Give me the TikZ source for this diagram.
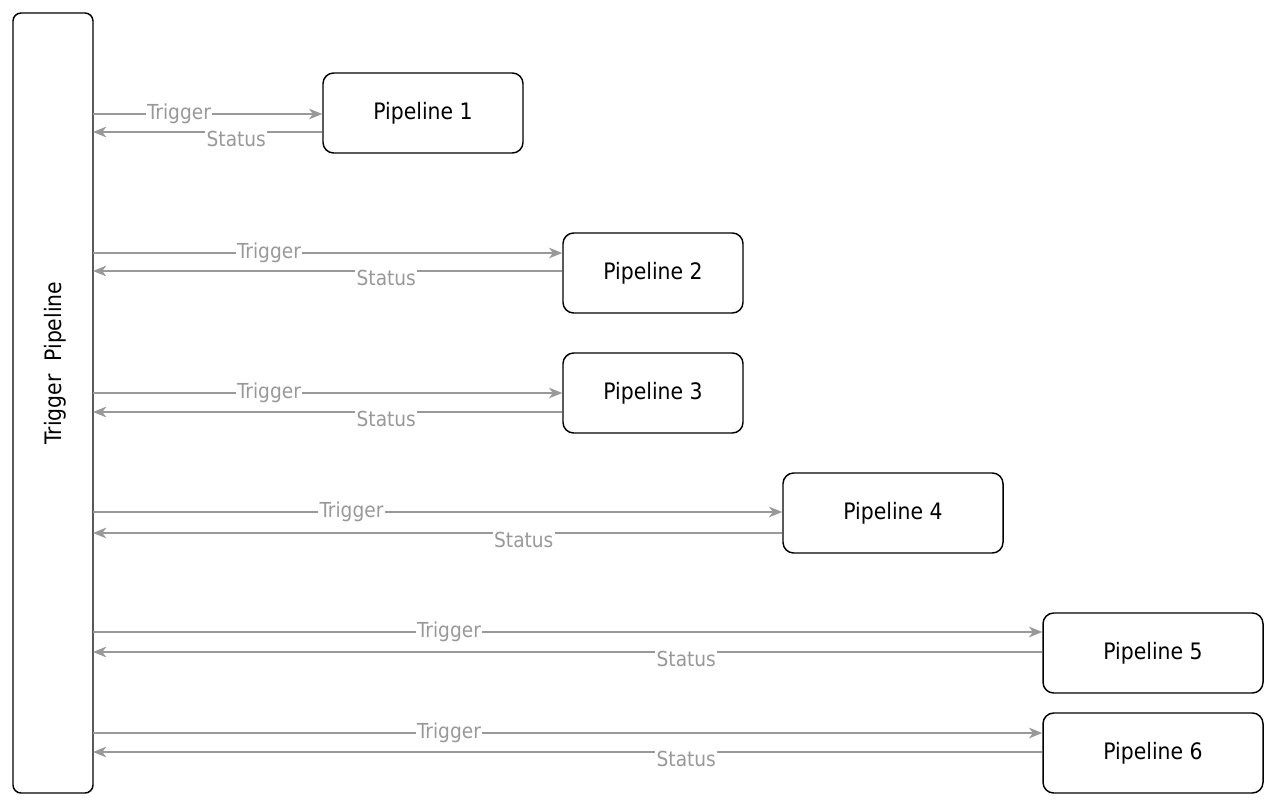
\documentclass[tikz,border=0pt]{standalone}
\usepackage{fontspec}
\setmainfont{DejaVu Sans Condensed}
\usepackage{tikz}
\usetikzlibrary{arrows.meta,calc}
\definecolor{linkgray}{HTML}{999999}

\begin{document}
\begin{tikzpicture}[x=0.75pt,y=-0.75pt]
\tikzset{
	main node/.style = {draw, line width = 1.1pt, rounded corners = 6pt, minimum width = 60pt, minimum height = 585pt, inner sep = 0},
	pipe node/.style = {draw, line width = 1.1pt, rounded corners = 8pt, minimum height = 60pt, inner sep = 0, font = \fontsize{17}{19}\selectfont},
	link line/.style = {draw = linkgray, line width = 1.1pt, -{Stealth[length = 10pt, width = 8pt, inset = 3pt]}},
	link label/.style = {fill = white, text = linkgray, inner sep = 1pt, font = \fontsize{15.5}{17}\selectfont},
}
\useasboundingbox (0,0) rectangle (1276,810);

\node(main)[main node] at (53,403) {};
\node[rotate = 90, font = \fontsize{17}{19}\selectfont] at (55,363) {Trigger\ \ Pipeline};

\node(p1)[pipe node, minimum width = 150pt] at (423,113) {Pipeline 1};
\node(p2)[pipe node, minimum width = 135pt] at (653,273) {Pipeline 2};
\node(p3)[pipe node, minimum width = 135pt] at (653,393) {Pipeline 3};
\node(p4)[pipe node, minimum width = 165pt] at (893,513) {Pipeline 4};
\node(p5)[pipe node, minimum width = 165pt] at (1153,653) {Pipeline 5};
\node(p6)[pipe node, minimum width = 165pt] at (1153,753) {Pipeline 6};

\coordinate (t1) at (93,114);  \coordinate (s1) at (93,132);
\coordinate (t2) at (93,253);  \coordinate (s2) at (93,271);
\coordinate (t3) at (93,393);  \coordinate (s3) at (93,412);
\coordinate (t4) at (93,512);  \coordinate (s4) at (93,533);
\coordinate (t5) at (93,632);  \coordinate (s5) at (93,652);
\coordinate (t6) at (93,733);  \coordinate (s6) at (93,752);

\foreach \i in {1,...,6}{
	\draw [link line] (t\i) -- (p\i.west |- t\i) node [link label, pos = 0.375] {Trigger};
	\draw [link line] (p\i.west |- s\i) -- (s\i) node [link label, pos = 0.375, yshift = -5pt] {Status};
}

\end{tikzpicture}
\end{document}
